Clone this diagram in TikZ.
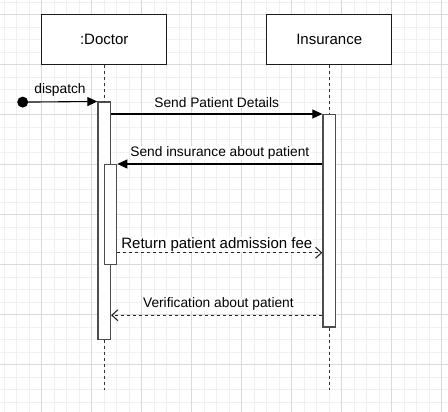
\documentclass[tikz,border=0pt]{standalone}
\usepackage{fontspec}
\setmainfont{Liberation Sans}
\usetikzlibrary{arrows.meta}
\definecolor{gridminor}{HTML}{F0F0F0}
\definecolor{gridmajor}{HTML}{DADADA}
\definecolor{boxline}{HTML}{1A1A1A}
\definecolor{actline}{HTML}{4D4D4D}
\definecolor{lifeline}{HTML}{333333}
\tikzset{
  actor/.style={draw=boxline, line width=1.25pt, fill=white, minimum width=125pt, minimum height=50pt, inner sep=0pt, font=\fontsize{15}{18}\selectfont},
  actbar/.style={draw=actline, line width=1.25pt, fill=white, minimum width=12.5pt, inner sep=0pt},
  life/.style={draw=lifeline, line width=1.25pt, dash pattern=on 3pt off 3pt},
  msg/.style={draw=black, line width=1.1pt, -{Triangle[length=10pt,width=9pt]}},
  reply/.style={draw=black!85, line width=1.1pt, dash pattern=on 3pt off 3pt, -{Straight Barb[length=6pt,width=11pt]}},
  lbl/.style={fill=white, inner sep=0.5pt, font=\fontsize{13.75}{16}\selectfont}
}
\begin{document}
\begin{tikzpicture}[x=1pt,y=-1pt]
\useasboundingbox (0,0) rectangle (448,412);
\fill[white] (0,0) rectangle (448,412);
% grid
\foreach \i in {0,...,35} \draw[gridminor, line width=1pt] ({4.2+12.5*\i},0) -- ++(0,412);
\foreach \i in {0,...,33} \draw[gridminor, line width=1pt] (0,{2.1+12.5*\i}) -- ++(448,0);
\foreach \i in {0,...,8} \draw[gridmajor, line width=1pt] ({41.7+50*\i},0) -- ++(0,412);
\foreach \i in {0,...,7} \draw[gridmajor, line width=1pt] (0,{14.6+50*\i}) -- ++(448,0);
% lifelines
\coordinate (docend) at (104.2,389.6);
\coordinate (insend) at (329.2,389.6);
\node[actor] (doc) at (104.2,39.6) {:Doctor};
\node[actor] (ins) at (329.2,39.6) {Insurance};
\node[actbar, minimum height=237.5pt] (docact) at (104.2,220.85) {};
\node[actbar, minimum height=212.5pt] (insact) at (329.2,220.85) {};
\draw[life] (doc.south) -- (docact.north);
\draw[life] (docact.south) -- (docend);
\draw[life] (ins.south) -- (insact.north);
\draw[life] (insact.south) -- (insend);
\node[actbar, minimum height=100pt] (nest) at (110.45,214.6) {};
\node[circle, fill=black, minimum size=11pt, inner sep=0pt] (start) at (22.7,102.1) {};
% messages
\draw[msg] (start.center) -- (docact.north west)
  node[lbl, midway, yshift=12pt, fill=none] {dispatch};
\draw[msg] (docact.east |- insact.north) -- (insact.north west)
  node[lbl, midway, yshift=11.3pt] {Send Patient Details};
\draw[msg] (insact.west |- nest.north) -- (nest.north east)
  node[lbl, midway, yshift=11.3pt] {Send insurance about patient};
\coordinate (retfrom) at ([yshift=12.5pt]nest.south east);
\draw[reply] (retfrom) -- (insact.west |- retfrom)
  node[lbl, midway, xshift=-3pt, yshift=8.5pt, font=\fontsize{15}{18}\selectfont] {Return patient admission fee};
\coordinate (verfrom) at ([yshift=12.5pt]insact.south west);
\draw[reply] (verfrom) -- (docact.east |- verfrom)
  node[lbl, midway, xshift=1.7pt, yshift=11.3pt] {Verification about patient};
\end{tikzpicture}
\end{document}
